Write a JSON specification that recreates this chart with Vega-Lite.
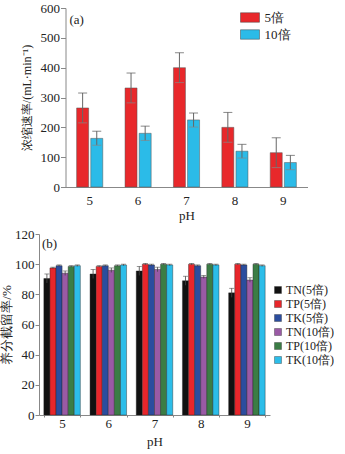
{
  "$schema": "https://vega.github.io/schema/vega-lite/v6.json",
  "padding": {"top": 2, "left": 0, "right": 0, "bottom": 2},
  "background": "white",
  "center": true,
  "spacing": 6,
  "resolve": {"scale": {"color": "independent", "xOffset": "independent", "y": "independent", "x": "independent"}, "legend": {"color": "independent"}},
  "config": {
    "font": "Liberation Serif",
    "view": {"stroke": null},
    "axis": {"labelFont": "Liberation Serif", "titleFont": "Liberation Serif", "labelColor": "#222", "titleColor": "#222", "domainColor": "#888", "tickColor": "#888", "grid": false, "labelFontSize": 13, "titleFontSize": 13, "titleFontWeight": "normal"},
    "legend": {"labelFont": "Liberation Serif", "labelColor": "#222"},
    "title": {"font": "Liberation Serif", "fontWeight": "normal", "color": "#222"}
  },
  "vconcat": [
    {
      "width": 242,
      "height": 179,
      "title": {"text": "(a)", "anchor": "start", "frame": "group", "fontSize": 13, "dx": 4, "dy": 9, "offset": -16},
      "data": {"values": [
        {"pH": "5", "g": "5倍", "v": 265, "lo": 215, "hi": 315},
        {"pH": "5", "g": "10倍", "v": 163, "lo": 140, "hi": 187},
        {"pH": "6", "g": "5倍", "v": 332, "lo": 282, "hi": 382},
        {"pH": "6", "g": "10倍", "v": 180, "lo": 156, "hi": 204},
        {"pH": "7", "g": "5倍", "v": 400, "lo": 350, "hi": 450},
        {"pH": "7", "g": "10倍", "v": 225, "lo": 201, "hi": 248},
        {"pH": "8", "g": "5倍", "v": 200, "lo": 150, "hi": 250},
        {"pH": "8", "g": "10倍", "v": 120, "lo": 97, "hi": 143},
        {"pH": "9", "g": "5倍", "v": 115, "lo": 65, "hi": 165},
        {"pH": "9", "g": "10倍", "v": 82, "lo": 58, "hi": 106}
      ]},
      "encoding": {
        "x": {"field": "pH", "type": "nominal", "scale": {"paddingInner": 0.46, "paddingOuter": 0.23},
          "axis": {"title": "pH", "labelAngle": 0, "ticks": false, "labelPadding": 7, "titlePadding": 2, "labelFont": "Liberation Serif", "titleFont": "Liberation Serif", "labelFontSize": 13, "titleFontSize": 13}},
        "xOffset": {"field": "g", "type": "nominal", "scale": {"domain": ["5倍", "10倍"], "paddingInner": 0.15}}
      },
      "layer": [
        {
          "mark": {"type": "bar", "stroke": "#555", "strokeWidth": 0.5},
          "encoding": {
            "y": {"field": "v", "type": "quantitative", "scale": {"domain": [0, 600]},
              "axis": {"title": ["", "浓缩速率/(mL·min⁻¹)"], "titleLineHeight": 12, "values": [0, 100, 200, 300, 400, 500, 600], "labelOverlap": false, "tickSize": 5, "titlePadding": 7, "labelPadding": 1, "labelFont": "Liberation Serif", "titleFont": "Liberation Serif", "labelFontSize": 13, "titleFontSize": 12}},
            "color": {"field": "g", "type": "nominal",
              "scale": {"domain": ["5倍", "10倍"], "range": ["#e8282b", "#2bbbe8"]},
              "legend": {"title": null, "orient": "none", "legendX": 178, "legendY": 3, "symbolType": "M-2,-1H2V1H-2Z", "symbolSize": 90, "symbolStrokeColor": "#444", "symbolStrokeWidth": 0.5, "symbolOpacity": 1, "labelFontSize": 13, "rowPadding": 3, "labelOffset": 8}}
          }
        },
        {
          "mark": {"type": "rule", "color": "#666", "strokeWidth": 1},
          "encoding": {"y": {"field": "lo", "type": "quantitative", "scale": {"domain": [0, 600]},
              "axis": {"title": ["", "浓缩速率/(mL·min⁻¹)"], "titleLineHeight": 12, "values": [0, 100, 200, 300, 400, 500, 600], "labelOverlap": false, "tickSize": 5, "titlePadding": 7, "labelPadding": 1, "labelFont": "Liberation Serif", "titleFont": "Liberation Serif", "labelFontSize": 13, "titleFontSize": 12}}, "y2": {"field": "hi"}}
        },
        {
          "mark": {"type": "tick", "color": "#555", "orient": "horizontal", "size": 9, "thickness": 1},
          "encoding": {"y": {"field": "hi", "type": "quantitative", "scale": {"domain": [0, 600]},
              "axis": {"title": ["", "浓缩速率/(mL·min⁻¹)"], "titleLineHeight": 12, "values": [0, 100, 200, 300, 400, 500, 600], "labelOverlap": false, "tickSize": 5, "titlePadding": 7, "labelPadding": 1, "labelFont": "Liberation Serif", "titleFont": "Liberation Serif", "labelFontSize": 13, "titleFontSize": 12}}}
        },
        {
          "mark": {"type": "tick", "color": "#888", "orient": "horizontal", "size": 9, "thickness": 1},
          "encoding": {"y": {"field": "lo", "type": "quantitative", "scale": {"domain": [0, 600]},
              "axis": {"title": ["", "浓缩速率/(mL·min⁻¹)"], "titleLineHeight": 12, "values": [0, 100, 200, 300, 400, 500, 600], "labelOverlap": false, "tickSize": 5, "titlePadding": 7, "labelPadding": 1, "labelFont": "Liberation Serif", "titleFont": "Liberation Serif", "labelFontSize": 13, "titleFontSize": 12}}}
        }
      ]
    },
    {
      "width": 231,
      "height": 181,
      "title": {"text": "(b)", "anchor": "start", "frame": "group", "fontSize": 13, "dx": 3, "dy": 7, "offset": -16},
      "data": {"values": [
        {"pH": "5", "s": "TN(5倍)", "v": 90.5, "lo": 87.5, "hi": 93.5},
        {"pH": "5", "s": "TP(5倍)", "v": 97.5, "lo": 97, "hi": 98},
        {"pH": "5", "s": "TK(5倍)", "v": 99, "lo": 98.5, "hi": 99.5},
        {"pH": "5", "s": "TN(10倍)", "v": 94, "lo": 92.5, "hi": 95.5},
        {"pH": "5", "s": "TP(10倍)", "v": 98.5, "lo": 98, "hi": 99},
        {"pH": "5", "s": "TK(10倍)", "v": 99, "lo": 98.5, "hi": 99.5},
        {"pH": "6", "s": "TN(5倍)", "v": 93.5, "lo": 90.5, "hi": 96.5},
        {"pH": "6", "s": "TP(5倍)", "v": 98.5, "lo": 98, "hi": 99},
        {"pH": "6", "s": "TK(5倍)", "v": 99, "lo": 98.5, "hi": 99.5},
        {"pH": "6", "s": "TN(10倍)", "v": 96, "lo": 94.5, "hi": 97.5},
        {"pH": "6", "s": "TP(10倍)", "v": 99, "lo": 98.5, "hi": 99.5},
        {"pH": "6", "s": "TK(10倍)", "v": 99.5, "lo": 99, "hi": 100},
        {"pH": "7", "s": "TN(5倍)", "v": 95.5, "lo": 92.5, "hi": 98.5},
        {"pH": "7", "s": "TP(5倍)", "v": 100, "lo": 99.5, "hi": 100.5},
        {"pH": "7", "s": "TK(5倍)", "v": 99.5, "lo": 99, "hi": 100},
        {"pH": "7", "s": "TN(10倍)", "v": 96.5, "lo": 95, "hi": 98},
        {"pH": "7", "s": "TP(10倍)", "v": 100, "lo": 99.5, "hi": 100.5},
        {"pH": "7", "s": "TK(10倍)", "v": 99.5, "lo": 99, "hi": 100},
        {"pH": "8", "s": "TN(5倍)", "v": 89, "lo": 86, "hi": 92},
        {"pH": "8", "s": "TP(5倍)", "v": 100, "lo": 99.5, "hi": 100.5},
        {"pH": "8", "s": "TK(5倍)", "v": 99, "lo": 98.5, "hi": 99.5},
        {"pH": "8", "s": "TN(10倍)", "v": 91.5, "lo": 90.5, "hi": 92.5},
        {"pH": "8", "s": "TP(10倍)", "v": 100, "lo": 99.5, "hi": 100.5},
        {"pH": "8", "s": "TK(10倍)", "v": 99.5, "lo": 99, "hi": 100},
        {"pH": "9", "s": "TN(5倍)", "v": 81, "lo": 78, "hi": 84},
        {"pH": "9", "s": "TP(5倍)", "v": 100, "lo": 99.5, "hi": 100.5},
        {"pH": "9", "s": "TK(5倍)", "v": 99.5, "lo": 99, "hi": 100},
        {"pH": "9", "s": "TN(10倍)", "v": 89.5, "lo": 88, "hi": 91},
        {"pH": "9", "s": "TP(10倍)", "v": 100, "lo": 99.5, "hi": 100.5},
        {"pH": "9", "s": "TK(10倍)", "v": 99, "lo": 98.5, "hi": 99.5}
      ]},
      "encoding": {
        "x": {"field": "pH", "type": "nominal", "scale": {"paddingInner": 0.21, "paddingOuter": 0.105},
          "axis": {"title": "pH", "labelAngle": 0, "tickBand": "extent", "tickSize": 2, "labelPadding": 0, "titlePadding": 5, "labelFont": "Liberation Serif", "titleFont": "Liberation Serif", "labelFontSize": 13, "titleFontSize": 13}},
        "xOffset": {"field": "s", "type": "nominal", "scale": {"domain": ["TN(5倍)", "TP(5倍)", "TK(5倍)", "TN(10倍)", "TP(10倍)", "TK(10倍)"], "paddingInner": 0}}
      },
      "layer": [
        {
          "mark": {"type": "bar", "stroke": "#222", "strokeWidth": 0.4},
          "encoding": {
            "y": {"field": "v", "type": "quantitative", "scale": {"domain": [0, 120]},
              "axis": {"title": "养分截留率/%", "values": [0, 20, 40, 60, 80, 100, 120], "labelOverlap": false, "tickSize": 4, "titlePadding": 1, "labelPadding": 1, "labelFont": "Liberation Serif", "titleFont": "Liberation Serif", "labelFontSize": 13, "titleFontSize": 13}},
            "color": {"field": "s", "type": "nominal",
              "scale": {"domain": ["TN(5倍)", "TP(5倍)", "TK(5倍)", "TN(10倍)", "TP(10倍)", "TK(10倍)"], "range": ["#111111", "#e8262b", "#2b4d9e", "#9a5aa5", "#3b7d45", "#2cbde9"]},
              "legend": {"title": null, "orient": "none", "legendX": 233, "legendY": 50, "symbolType": "square", "symbolSize": 49, "symbolStrokeColor": "#333", "symbolStrokeWidth": 0.4, "symbolOpacity": 1, "labelFontSize": 12, "rowPadding": 2, "labelOffset": 2, "labelLimit": 80}}
          }
        },
        {
          "mark": {"type": "rule", "color": "#444", "strokeWidth": 0.8},
          "encoding": {"y": {"field": "lo", "type": "quantitative", "scale": {"domain": [0, 120]},
              "axis": {"title": "养分截留率/%", "values": [0, 20, 40, 60, 80, 100, 120], "labelOverlap": false, "tickSize": 4, "titlePadding": 1, "labelPadding": 1, "labelFont": "Liberation Serif", "titleFont": "Liberation Serif", "labelFontSize": 13, "titleFontSize": 13}}, "y2": {"field": "hi"}}
        },
        {
          "mark": {"type": "tick", "color": "#444", "orient": "horizontal", "size": 5, "thickness": 0.8},
          "encoding": {"y": {"field": "hi", "type": "quantitative", "scale": {"domain": [0, 120]},
              "axis": {"title": "养分截留率/%", "values": [0, 20, 40, 60, 80, 100, 120], "labelOverlap": false, "tickSize": 4, "titlePadding": 1, "labelPadding": 1, "labelFont": "Liberation Serif", "titleFont": "Liberation Serif", "labelFontSize": 13, "titleFontSize": 13}}}
        }
      ]
    }
  ]
}
